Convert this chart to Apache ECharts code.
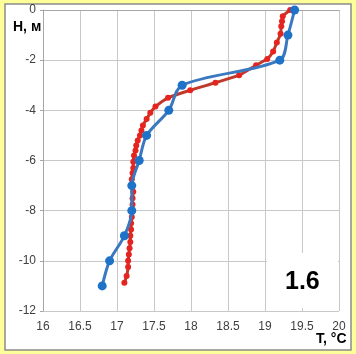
<!DOCTYPE html>
<html><head><meta charset="utf-8">
<script src="https://cdn.jsdelivr.net/npm/echarts@6/dist/echarts.min.js"></script>
<style>html,body{margin:0;padding:0;background:#FFFF99;}#c{width:356px;height:354px;}</style>
</head><body><div id="c"></div>
<script>
// Blue profile (large markers)
var blueT = [19.4, 19.31, 19.2, 17.88, 17.7, 17.4, 17.3, 17.2, 17.2, 17.1, 16.9, 16.8];
var blueH = [0, -1, -2, -3, -4, -5, -6, -7, -8, -9, -10, -11];
// Red profile (small markers)
var redT = [19.34, 19.24, 19.23, 19.22, 19.21, 19.16, 19.11, 19.03, 18.88, 18.65, 18.33, 17.99, 17.69, 17.52, 17.45,
  17.40, 17.35, 17.33, 17.31, 17.28, 17.26, 17.25, 17.23, 17.22, 17.22, 17.21, 17.20, 17.21, 17.22, 17.21, 17.21,
  17.20, 17.20, 17.19, 17.19, 17.18, 17.18, 17.17, 17.16, 17.15, 17.15, 17.13, 17.10];
var redH = [0, -0.25, -0.45, -0.65, -0.95, -1.3, -1.65, -1.95, -2.2, -2.6, -2.9, -3.2, -3.5, -3.85, -4.1,
  -4.35, -4.6, -4.8, -5.0, -5.2, -5.4, -5.6, -5.8, -6.05, -6.3, -6.5, -6.75, -7.0, -7.25, -7.5, -7.75,
  -8.0, -8.25, -8.5, -8.75, -9.0, -9.25, -9.5, -9.75, -10.0, -10.25, -10.6, -10.87];
var xTicks = {min: 16, max: 20, step: 0.5};
var yTicks = {min: -12, max: 0, step: 2};
var yTitle = 'H, м';
var xTitle = 'T, °C';
var badge = '1.6';

function pairs(a, b) { return a.map(function (v, i) { return [v, b[i]]; }); }

var chart = echarts.init(document.getElementById('c'), null, {renderer: 'canvas'});
var tickFont = "'Liberation Sans Narrow','Arial Narrow','Liberation Sans',sans-serif";
chart.setOption({
  backgroundColor: '#FFFF99',
  animation: false,
  grid: {left: 43, top: 10, right: 17, bottom: 43},
  xAxis: {
    type: 'value', min: xTicks.min, max: xTicks.max, interval: xTicks.step,
    axisLine: {show: true, lineStyle: {color: '#A6A6A6', width: 1}},
    axisTick: {show: false},
    axisLabel: {color: '#404040', fontSize: 12, fontFamily: tickFont, margin: 10},
    splitLine: {show: true, lineStyle: {color: '#C8C8C8', width: 1}}
  },
  yAxis: {
    type: 'value', min: yTicks.min, max: yTicks.max, interval: yTicks.step,
    axisLine: {show: true, onZero: false, lineStyle: {color: '#A6A6A6', width: 1}},
    axisTick: {show: true, length: 3, lineStyle: {color: '#A6A6A6'}},
    axisLabel: {color: '#404040', fontSize: 12, fontFamily: tickFont, margin: 7},
    splitLine: {show: true, lineStyle: {color: '#C8C8C8', width: 1}}
  },
  graphic: [
    {type: 'rect', z: -10, shape: {x: 5, y: 4, width: 346, height: 346},
      style: {fill: '#FFFFFF', stroke: '#8C8C8C', lineWidth: 1.5}},
    {type: 'rect', z: 50, shape: {x: 267, y: 253, width: 71, height: 55},
      style: {fill: '#FFFFFF'}},
    {type: 'text', z: 51, left: 285, top: 270,
      style: {text: badge, font: "bold 25px 'Liberation Sans', Arial, sans-serif", fill: '#000'}},
    {type: 'text', z: 51, left: 13, top: 20,
      style: {text: yTitle, font: "bold 14px 'Liberation Sans Narrow','Arial Narrow',sans-serif", fill: '#000'}},
    {type: 'text', z: 51, left: 316, top: 332,
      style: {text: xTitle, font: "bold 14px 'Liberation Sans Narrow','Arial Narrow',sans-serif", fill: '#000'}}
  ],
  series: [
    {
      type: 'line', data: pairs(redT, redH), smooth: 0.2, z: 3,
      symbol: 'circle', symbolSize: 6,
      lineStyle: {color: '#C0392B', width: 3},
      itemStyle: {color: '#E52420'}
    },
    {
      type: 'line', data: pairs(blueT, blueH), smooth: 0.3, z: 4,
      symbol: 'circle', symbolSize: 9,
      lineStyle: {color: '#3A78C0', width: 3},
      itemStyle: {color: '#1E73C8'}
    }
  ]
});
</script>
</body></html>
